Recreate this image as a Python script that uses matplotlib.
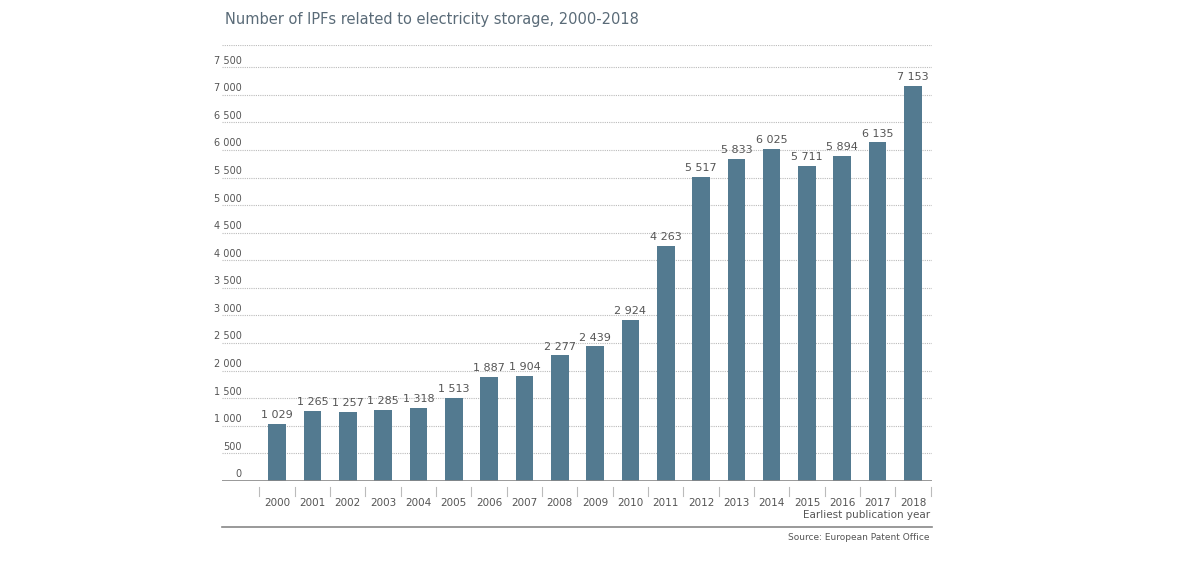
import matplotlib.pyplot as plt
from matplotlib.lines import Line2D

years = [str(y) for y in range(2000, 2019)]
values = [1029, 1265, 1257, 1285, 1318, 1513, 1887, 1904, 2277, 2439, 2924,
          4263, 5517, 5833, 6025, 5711, 5894, 6135, 7153]
yticks = list(range(0, 7501, 500))

bar_color = "#537a90"
text_color = "#555555"


def fmt(v):
    return f"{v:,}".replace(",", " ")


fig = plt.figure(figsize=(12, 5.71), dpi=100)
ax = fig.add_axes([0.185, 0.1576, 0.592, 0.7634])

x = list(range(len(years)))
ax.bar(x, values, width=0.5, color=bar_color, zorder=3)
for xi, v in zip(x, values):
    ax.text(xi, v + 70, fmt(v), ha="center", va="bottom", fontsize=8, color=text_color)

ax.set_xlim(-1.56, 18.55)
ax.set_ylim(0, 7900)
for t in yticks[1:] + [7900]:
    ax.axhline(t, color="#bbbbbb", lw=0.8, ls=(0, (1, 1)), zorder=1)
for t in yticks:
    ax.text(-1.0, t + 120, fmt(t), ha="right", va="center", fontsize=7, color=text_color)

for s in ax.spines.values():
    s.set_visible(False)
ax.axhline(0, color="#888888", lw=1.2, zorder=4)
ax.set_yticks([])
ax.set_xticks(x)
ax.set_xticklabels(years, fontsize=7.5, color=text_color)
ax.tick_params(axis="x", length=0, pad=12)
for b in [i - 0.5 for i in range(len(years) + 1)]:
    ax.add_line(Line2D([b, b], [-100, -280], color="#bbbbbb", lw=0.8, clip_on=False))

fig.text(0.1875, 0.965, "Number of IPFs related to electricity storage, 2000-2018",
         fontsize=10.5, color="#5a6b78", ha="left", va="center")
fig.text(0.775, 0.098, "Earliest publication year", fontsize=7.5, color=text_color, ha="right", va="center")
fig.add_artist(Line2D([0.185, 0.777], [0.077, 0.077], color="#888888", lw=1.2))
fig.text(0.775, 0.058, "Source: European Patent Office", fontsize=6.5, color=text_color, ha="right", va="center")

fig.savefig("out.png")
